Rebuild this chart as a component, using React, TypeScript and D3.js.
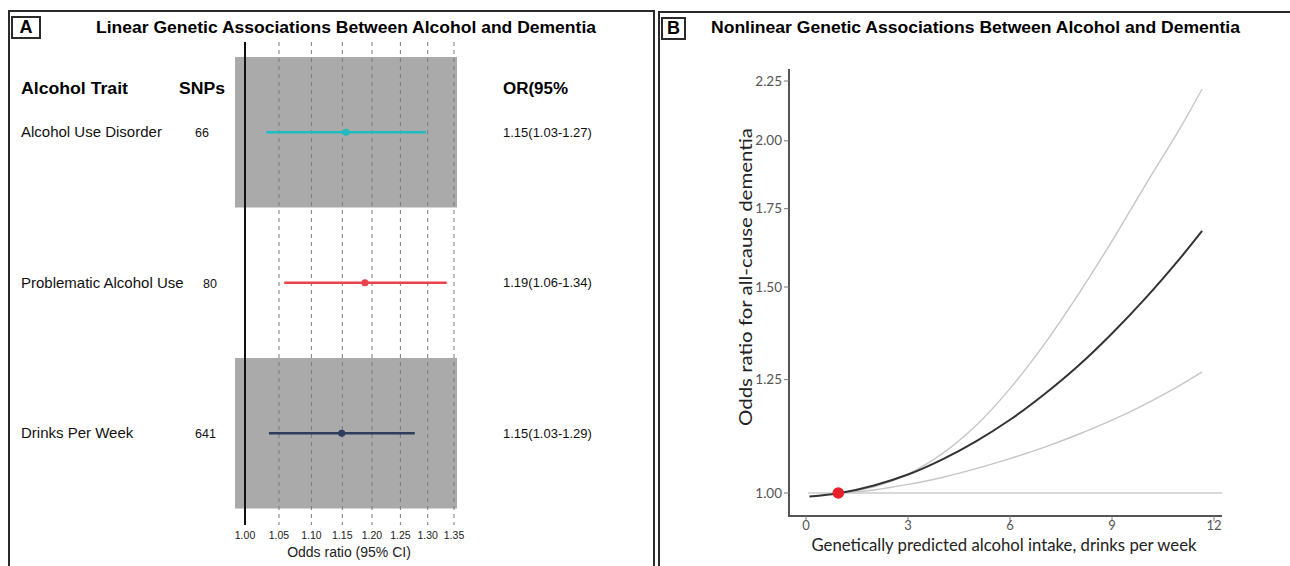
import * as d3 from "d3";

// panel A: forest plot
const traits = ["Alcohol Use Disorder", "Problematic Alcohol Use", "Drinks Per Week"];
const snps = ["66", "80", "641"];
const orLabels = ["1.15(1.03-1.27)", "1.19(1.06-1.34)", "1.15(1.03-1.29)"];
const orEst = [1.156, 1.188, 1.149];
const orLow = [1.031, 1.058, 1.035];
const orHigh = [1.297, 1.336, 1.276];
const ciColors = ["#1fbcc2", "#e8434b", "#2e3d5c"];
const orTicks = [1.0, 1.05, 1.1, 1.15, 1.2, 1.25, 1.3, 1.35];

// panel B: nonlinear MR curve
const intake = [0.1, 1, 2, 3, 4, 5, 6, 7, 8, 9, 10, 11, 11.65];
const orMid = [0.993, 1.0, 1.015, 1.037, 1.068, 1.107, 1.155, 1.214, 1.284, 1.369, 1.469, 1.587, 1.675];
const orUpper = [null, 1.0, 1.012, 1.038, 1.08, 1.142, 1.228, 1.339, 1.477, 1.642, 1.837, 2.05, 2.215];
const orLower = [null, 1.0, 1.006, 1.017, 1.031, 1.049, 1.07, 1.094, 1.122, 1.154, 1.192, 1.236, 1.269];
const yTicksB = [1.0, 1.25, 1.5, 1.75, 2.0, 2.25];
const xTicksB = [0, 3, 6, 9, 12];
const refPoint = { x: 0.95, y: 1.0 };

const sansA = "'Liberation Sans', Arial, sans-serif";
const sansB = "Lato, 'Open Sans', sans-serif";

function PanelA() {
  const x = d3.scaleLog().domain([1, 1.35]).range([245, 454]);
  const rows = d3.scaleBand<string>().domain(traits).range([57, 508.5]);
  const bw = rows.bandwidth();

  return (
    <g>
      <rect x={9} y={11} width={645} height={600} fill="none" stroke="#2a2a2a" strokeWidth={2} />
      <rect x={12} y={17} width={28} height={21} fill="none" stroke="#2a2a2a" strokeWidth={2} />
      <text x={26} y={33} textAnchor="middle" fontFamily={sansA} fontWeight="bold" fontSize={18}>A</text>
      <text x={96} y={33} fontFamily={sansA} fontWeight="bold" fontSize={17} textLength={500} lengthAdjust="spacingAndGlyphs">
        Linear Genetic Associations Between Alcohol and Dementia
      </text>

      {traits.map((t, i) =>
        i % 2 === 0 ? (
          <rect key={t} x={235} y={rows(t)} width={222} height={bw} fill="#aaaaaa" />
        ) : null
      )}

      {orTicks.slice(1).map((t) => (
        <line key={t} x1={x(t)} x2={x(t)} y1={42} y2={525} stroke="#7a7a7a" strokeWidth={1} strokeDasharray="4,4" />
      ))}
      <line x1={x(1)} x2={x(1)} y1={42} y2={525} stroke="#111" strokeWidth={2} />

      {orTicks.map((t) => (
        <text key={t} x={x(t)} y={539} textAnchor="middle" fontFamily={sansA} fontSize={10.5} fill="#222">
          {t.toFixed(2)}
        </text>
      ))}
      <text x={349} y={557} textAnchor="middle" fontFamily={sansA} fontSize={14} fill="#222">
        Odds ratio (95% CI)
      </text>

      <text x={21} y={94} fontFamily={sansA} fontWeight="bold" fontSize={16} textLength={107} lengthAdjust="spacingAndGlyphs">Alcohol Trait</text>
      <text x={179} y={94} fontFamily={sansA} fontWeight="bold" fontSize={16} textLength={46} lengthAdjust="spacingAndGlyphs">SNPs</text>
      <text x={503} y={94} fontFamily={sansA} fontWeight="bold" fontSize={16} textLength={65} lengthAdjust="spacingAndGlyphs">OR(95%</text>

      {traits.map((t, i) => {
        const cy = (rows(t) as number) + bw / 2;
        return (
          <g key={t}>
            <text x={21} y={cy + 5} fontFamily={sansA} fontSize={15} fill="#111">{t}</text>
            <text x={i === 1 ? 203 : 195} y={cy + 5} fontFamily={sansA} fontSize={12.5} fill="#111">{snps[i]}</text>
            <text x={503} y={cy + 4.5} fontFamily={sansA} fontSize={13} fill="#111">{orLabels[i]}</text>
            <line x1={x(orLow[i])} x2={x(orHigh[i])} y1={cy} y2={cy} stroke={ciColors[i]} strokeWidth={2.6} />
            <circle cx={x(orEst[i])} cy={cy} r={3.6} fill={ciColors[i]} />
          </g>
        );
      })}
    </g>
  );
}

function PanelB() {
  const x = d3.scaleLinear().domain([0, 12]).range([806, 1214]);
  const y = d3.scaleLog().domain([1, 2.25]).range([493, 81]);

  const mk = (vals: (number | null)[]) =>
    d3
      .line<number>()
      .defined((_, i) => vals[i] != null)
      .x((d) => x(d))
      .y((_, i) => y(vals[i] as number))
      .curve(d3.curveCatmullRom.alpha(0.5))(intake) as string;

  return (
    <g>
      <rect x={659} y={12} width={700} height={600} fill="none" stroke="#2a2a2a" strokeWidth={2} />
      <rect x={662} y={18} width={23} height={21} fill="none" stroke="#2a2a2a" strokeWidth={2} />
      <text x={673.5} y={34} textAnchor="middle" fontFamily={sansA} fontWeight="bold" fontSize={18}>B</text>
      <text x={711} y={33} fontFamily={sansA} fontWeight="bold" fontSize={17} textLength={529} lengthAdjust="spacingAndGlyphs">
        Nonlinear Genetic Associations Between Alcohol and Dementia
      </text>

      <line x1={x(0.06)} x2={x(12.24)} y1={y(1)} y2={y(1)} stroke="#cccccc" strokeWidth={1.6} />
      <path d={mk(orUpper)} fill="none" stroke="#c6c6c6" strokeWidth={1.4} />
      <path d={mk(orLower)} fill="none" stroke="#c6c6c6" strokeWidth={1.4} />
      <path d={mk(orMid)} fill="none" stroke="#333333" strokeWidth={2} />
      <circle cx={x(refPoint.x)} cy={y(refPoint.y)} r={5.8} fill="#e8202a" />

      <line x1={789} x2={789} y1={69} y2={516} stroke="#555" strokeWidth={2} />
      <line x1={788} x2={1222} y1={516} y2={516} stroke="#555" strokeWidth={2} />
      {yTicksB.map((t) => (
        <g key={t}>
          <line x1={784} x2={789} y1={y(t)} y2={y(t)} stroke="#777" strokeWidth={1} />
          <text x={782} y={y(t) + 4.5} textAnchor="end" fontFamily={sansB} fontSize={13.5} fill="#555">
            {t.toFixed(2)}
          </text>
        </g>
      ))}
      {xTicksB.map((t) => (
        <g key={t}>
          <line x1={x(t)} x2={x(t)} y1={516} y2={521} stroke="#777" strokeWidth={1} />
          <text x={x(t)} y={530} textAnchor="middle" fontFamily={sansB} fontSize={13} fill="#555">{t}</text>
        </g>
      ))}
      <text x={1004} y={551} textAnchor="middle" fontFamily={sansB} fontSize={17.5} fill="#222" textLength={385} lengthAdjust="spacingAndGlyphs">
        Genetically predicted alcohol intake, drinks per week
      </text>
      <text transform="translate(752,277) rotate(-90)" textAnchor="middle" fontFamily={sansB} fontSize={17.5} fill="#222" textLength={298} lengthAdjust="spacingAndGlyphs">
        Odds ratio for all-cause dementia
      </text>
    </g>
  );
}

export default function App() {
  return (
    <svg width={1290} height={566} style={{ position: "absolute", left: 0, top: 0, background: "#fff" }}>
      <rect width={1290} height={566} fill="#fff" />
      <PanelA />
      <PanelB />
    </svg>
  );
}
